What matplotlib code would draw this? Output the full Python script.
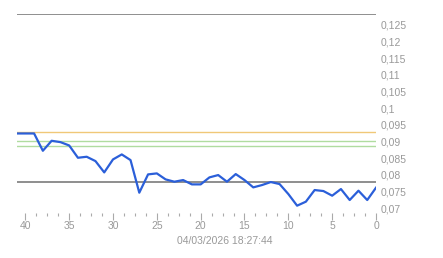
import numpy as np
import matplotlib.pyplot as plt
from matplotlib.ticker import FixedLocator, MultipleLocator, FuncFormatter

# --- données ---
t = np.arange(41, -1, -1)
values = [0.0924, 0.0924, 0.0924, 0.0872, 0.0902, 0.0898, 0.0888, 0.0851,
          0.0854, 0.0841, 0.0807, 0.0846, 0.0861, 0.0844, 0.0746, 0.0801,
          0.0804, 0.0786, 0.0779, 0.0784, 0.0771, 0.0771, 0.0792, 0.0799,
          0.0779, 0.0802, 0.0784, 0.0762, 0.0769, 0.0778, 0.0772, 0.0742,
          0.0707, 0.0719, 0.0754, 0.0751, 0.0737, 0.0757, 0.0724, 0.0752,
          0.0724, 0.0761]
ref_lines = [0.1283, 0.0779]
orange_line = 0.0928
green_lines = [0.0902, 0.0887]
x_ticks = [40, 35, 30, 25, 20, 15, 10, 5, 0]
y_ticks = [0.07, 0.075, 0.08, 0.085, 0.09, 0.095, 0.1, 0.105, 0.11, 0.115, 0.12, 0.125]
date_label = "04/03/2026 18:27:44"

plt.rcParams['font.family'] = ['Liberation Sans', 'DejaVu Sans']

fig = plt.figure(figsize=(4.43, 2.58), dpi=100)
ax = fig.add_axes([17 / 443, 1 - 213 / 258, (376 - 17) / 443, (213 - 14) / 258])

for v in ref_lines:
    ax.axhline(v, color='#707070', lw=1.1, zorder=1)
ax.axhline(orange_line, color='#f0c878', lw=1.0, zorder=1)
for v in green_lines:
    ax.axhline(v, color='#b0dca0', lw=1.0, zorder=1)

ax.plot(t, values, color='#2b5fd9', lw=1.6, zorder=3)

ax.set_xlim(40.95, 0)
ax.set_ylim(0.0685, 0.1283)

for s in ax.spines.values():
    s.set_visible(False)

ax.xaxis.set_major_locator(FixedLocator(x_ticks))
ax.xaxis.set_minor_locator(MultipleLocator(1.25))
ax.tick_params(axis='x', which='major', length=5, width=0.8, color='#aaaaaa',
               labelsize=7.5, labelcolor='#999999', pad=1)
ax.tick_params(axis='x', which='minor', length=2, width=0.8, color='#aaaaaa')

ax.yaxis.tick_right()
ax.yaxis.set_major_locator(FixedLocator(y_ticks))
ax.yaxis.set_major_formatter(FuncFormatter(lambda v, p: ('%g' % round(v, 3)).replace('.', ',')))
ax.tick_params(axis='y', length=0, labelsize=7.5, labelcolor='#999999', pad=3)

fig.text(225 / 443, 1 - 241 / 258, date_label, ha='center', va='center',
         fontsize=7.5, color='#999999')

fig.savefig('out.png', dpi=100)
